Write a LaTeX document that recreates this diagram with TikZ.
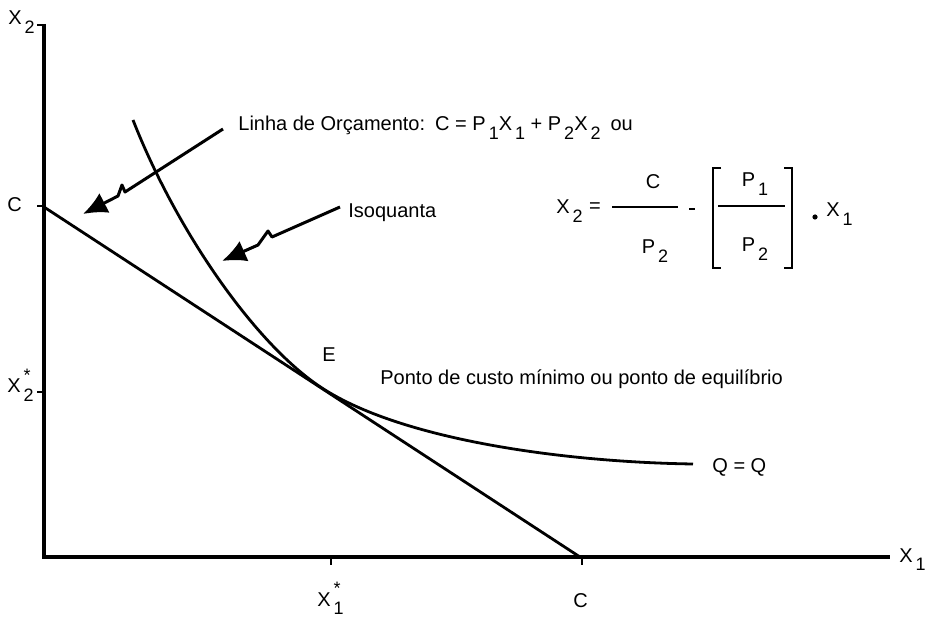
\documentclass[tikz,border=0pt]{standalone}
\usepackage{fontspec}
\setmainfont{Liberation Sans}
\usetikzlibrary{arrows.meta}

\newcommand{\lowr}[1]{\hspace{0.15em}\raisebox{-0.85ex}{\small #1}}
\newcommand{\lowstar}[1]{\hspace{0.15em}\rlap{\raisebox{-0.85ex}{\small #1}}\raisebox{1.1ex}{\small *}}

\begin{document}
\begin{tikzpicture}[x=0.5pt, y=-0.5pt,
    axis/.style={line width=1.7pt},
    tick/.style={line width=1.4pt},
    curve/.style={line width=1.4pt},
    zigarrow/.style={-{Latex[length=12pt, width=11pt]}, line width=1.5pt, line join=round},
    lbl/.style={inner sep=0pt, anchor=base west, font=\fontsize{10}{12}\selectfont},
    mid/.style={inner sep=0pt, font=\fontsize{10}{12}\selectfont},
    bar/.style={line width=1pt}
]
\useasboundingbox (0,0) rectangle (932,620);

% axes and ticks
\coordinate (O) at (44,557);
\coordinate (ytop) at (44,24);
\coordinate (xend) at (890,557);
\draw[axis] (ytop) -- (O) -- (xend);
\draw[tick] (37,25) -- (44,25);
\draw[tick] (37,206) -- (44,206);
\draw[tick] (37,392) -- (44,392);
\draw[tick] (331,557) -- (331,565);
\draw[tick] (582,557) -- (582,565);

\node[lbl] (ylab) at (8,25) {X\lowr{2}};
\node[lbl] (xlab) at (899,562) {X\lowr{1}};
\node[lbl] (cy) at (7,212) {C};
\node[lbl] (x2s) at (7,393) {X\lowstar{2}};
\node[lbl] (x1s) at (317,606) {X\lowstar{1}};
\node[lbl] (cx) at (573,607) {C};

% budget line and isoquant
\coordinate (Cy) at (44,207);
\coordinate (Cx) at (580,557);
\coordinate (E) at (322,388);
\draw[curve] (Cy) -- (Cx);
\draw[curve] (133,120) .. controls (177,232) and (256,345) .. (E)
    .. controls (400,439) and (560,462) .. (693,464);

% labels
\node[lbl] (linha) at (238,131) {Linha de Orçamento:\enspace C = P\lowr{1}X\lowr{1} + P\lowr{2}X\lowr{2}\enspace ou};
\node[lbl] (iso) at (348,218) {Isoquanta};
\node[lbl] (elab) at (322,362) {E};
\node[lbl] (ponto) at (380,385) {Ponto de custo mínimo ou ponto de equilíbrio};
\node[lbl] (qq) at (712,472) {Q = Q};

% pointer arrows
\coordinate (budtail) at (223,129);
\coordinate (budtip) at (83,214);
\coordinate (isotail) at (340,207);
\coordinate (isotip) at (222,261);
\draw[zigarrow] (budtail) -- (125,192) -- (122,185) -- (118,196) -- (budtip);
\draw[zigarrow] (isotail) -- (272,237) -- (268,231) -- (258,245) -- (isotip);

% formula
\node[lbl] (fx2) at (556,214) {X\lowr{2}};
\node[mid] (feq) at (595,208) {=};
\draw[bar] (612,207) -- (678,207);
\node[mid] (fc) at (653,182) {C};
\node[mid] (fp2a) at (655,251) {P\lowr{2}};
\draw[bar] (689,209) -- (695,209);
\draw[bar] (721,168) -- (713,168) -- (713,268) -- (721,268);
\draw[bar] (784,168) -- (792,168) -- (792,268) -- (784,268);
\draw[bar] (718,206) -- (785,206);
\node[mid] (fp1) at (755,184) {P\lowr{1}};
\node[mid] (fp2b) at (755,249) {P\lowr{2}};
\fill (815,217) circle (1.3pt);
\node[lbl] (fx1) at (826,217) {X\lowr{1}};
\end{tikzpicture}
\end{document}
